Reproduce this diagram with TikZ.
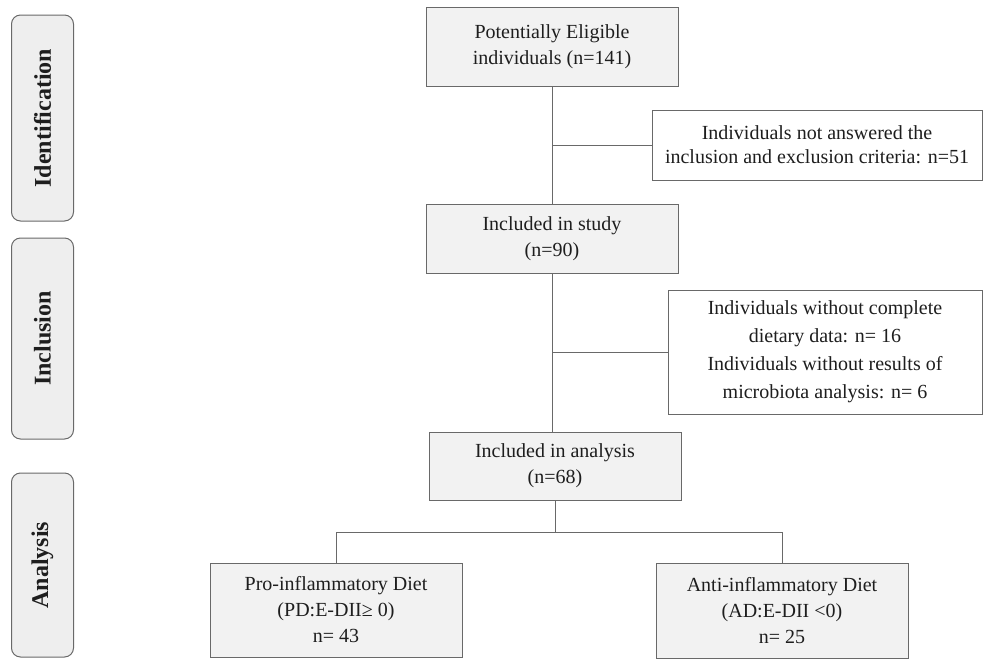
\documentclass[tikz,border=0pt]{standalone}
\usepackage{fontspec}
\setmainfont{Liberation Serif}
\usepackage{xcolor}
\usetikzlibrary{positioning, calc}
\definecolor{boxfill}{RGB}{242, 242, 242}
\definecolor{stagefill}{RGB}{238, 238, 238}
\definecolor{edgegray}{RGB}{105, 105, 105}
\definecolor{textdark}{RGB}{30, 30, 30}

\begin{document}
\begin{tikzpicture}[
    x=1pt, y=-1pt,
    stage/.style={draw=edgegray, fill=stagefill, rounded corners=9pt, line width=1pt, minimum width=62pt, text=textdark, font=\fontsize{24}{28}\selectfont\bfseries},
    flowbox/.style={draw=edgegray, fill=boxfill, line width=1pt, minimum width=252pt, align=center, inner sep=0pt, text=textdark, font=\fontsize{20}{26}\selectfont},
    exclbox/.style={draw=edgegray, fill=white, line width=1pt, align=center, inner sep=0pt, text=textdark, font=\fontsize{20}{26}\selectfont},
    link/.style={draw=edgegray, line width=1pt}
]
    \useasboundingbox (0,0) rectangle (983,659);

    % Stages
    \node[stage, minimum height=206pt] (ident) at (42.5, 118) {\rotatebox{90}{Identification}};
    \node[stage, minimum height=201pt] (incl) at (42.5, 338.5) {\rotatebox{90}{Inclusion}};
    \node[stage, minimum height=184pt] (anal) at (42.5, 565) {\rotatebox{90}{Analysis}};

    % Main flow
    \node[flowbox, minimum height=79pt] (eligible) at (552, 46.5) {Potentially Eligible\\individuals (n=141)};
    \node[flowbox, minimum height=69pt] (study) at (552, 238.5) {Included in study\\(n=90)};
    \node[flowbox, minimum height=68pt] (analysis) at (555, 466) {Included in analysis\\(n=68)};

    % Exclusions
    \node[exclbox, minimum width=330pt, minimum height=70pt, font=\fontsize{20}{24}\selectfont] (noanswer) at (817, 145) {Individuals not answered the\\inclusion and exclusion criteria: n=51};
    \node[exclbox, minimum width=314pt, minimum height=124pt, font=\fontsize{20}{28}\selectfont] (missing) at (825, 352) {Individuals without complete\\dietary data: n= 16\\Individuals without results of\\microbiota analysis: n= 6};

    % Groups
    \node[flowbox, minimum height=94pt] (pro) at (336, 610) {Pro-inflammatory Diet\\(PD:E-DII≥ 0)\\n= 43};
    \node[flowbox, minimum height=95pt] (anti) at (782, 610.5) {Anti-inflammatory Diet\\(AD:E-DII <0)\\n= 25};

    % Connectors
    \draw[link] (eligible) -- (study);
    \draw[link] (noanswer.west) -- (noanswer.west -| eligible.south);
    \draw[link] (study.south) -- (study.south |- analysis.north);
    \draw[link] (missing.west) -- (missing.west -| study.south);
    \coordinate (split) at ($(analysis.south) + (0, 32)$);
    \draw[link] (analysis) -- (split);
    \draw[link] (split) -| (pro);
    \draw[link] (split) -| (anti);
\end{tikzpicture}
\end{document}
